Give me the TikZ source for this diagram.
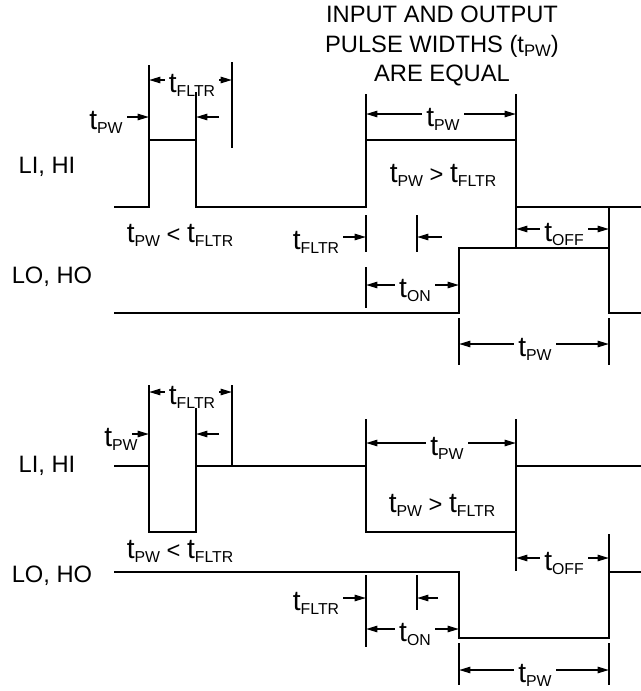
\documentclass[tikz,border=0pt]{standalone}
\usepackage{fontspec}
\setmainfont{Liberation Sans}
\usetikzlibrary{arrows.meta}
\newcommand{\tsb}[1]{{\fontsize{16}{17}\selectfont t}\raisebox{-2.5pt}{\fontsize{9}{9}\selectfont #1}}

\begin{document}
\begin{tikzpicture}[x=0.02cm,y=-0.02cm,line width=1pt,
    >={Triangle[length=6.5pt,width=3.6pt]},
    txt/.style={inner sep=1.5pt,font=\fontsize{13.5}{16.8}\selectfont},
    lbl/.style={inner sep=2pt,text height=14pt,text depth=0pt,
      font=\fontsize{13.5}{16.8}\selectfont}]
    \useasboundingbox (0,0) rectangle (641,691);
    \coordinate (xa) at (149,0);
    \coordinate (xb) at (196,0);
    \coordinate (xc) at (232,0);
    \coordinate (xd) at (366,0);
    \coordinate (xe) at (417,0);
    \coordinate (xf) at (459,0);
    \coordinate (xg) at (516,0);
    \coordinate (xh) at (609,0);
    \node[txt,align=center] (title) at (442,46)
      {INPUT AND OUTPUT\\PULSE WIDTHS (t\raisebox{-2.5pt}{\fontsize{9.5}{9.5}\selectfont PW})\\ARE EQUAL};
    \node[txt] (li1) at (47,167) {LI, HI};
    \node[txt] (lo1) at (52,277) {LO, HO};
    \node[txt] (li2) at (47,466) {LI, HI};
    \node[txt] (lo2) at (52,576) {LO, HO};
    % upper diagram
    \draw (114,207) -- (149,207) -- (149,140) -- (196,140) -- (196,207) -- (366,207)
      -- (366,140) -- (516,140) -- (516,207) -- (641,207);
    \draw (114,313) -- (459,313) -- (459,248) -- (609,248) -- (609,313) -- (641,313);
    \draw (149,140) -- (149,65);
    \draw (196,140) -- (196,92);
    \draw (232,62) -- (232,148);
    \draw (366,140) -- (366,94);
    \draw (516,140) -- (516,94);
    \draw (516,207) -- (516,247);
    \draw (609,248) -- (609,207);
    \draw (366,215) -- (366,252);
    \draw (417,215) -- (417,252);
    \draw (366,267) -- (366,308);
    \draw (459,318) -- (459,365);
    \draw (609,318) -- (609,365);
    \node[lbl] (fa) at (192,80) {\tsb{FLTR}};
    \draw[->] (fa.west) -- (fa.west -| xa);
    \draw[->] (fa.east) -- (fa.east -| xc);
    \node[lbl] (pa) at (106,117) {\tsb{PW}};
    \draw[->] (pa.east) -- (pa.east -| xa);
    \coordinate (qa) at (219,117);
    \draw[->] (qa) -- (qa -| xb);
    \node[lbl] (ca) at (180,230) {\tsb{PW} < \tsb{FLTR}};
    \node[lbl] (pb) at (443,114) {\tsb{PW}};
    \draw[->] (pb.west) -- (pb.west -| xd);
    \draw[->] (pb.east) -- (pb.east -| xg);
    \node[lbl] (cb) at (443,170) {\tsb{PW} > \tsb{FLTR}};
    \node[lbl] (fb) at (316,237) {\tsb{FLTR}};
    \draw[->] (fb.east) -- (fb.east -| xd);
    \coordinate (qb) at (442,237);
    \draw[->] (qb) -- (qb -| xe);
    \node[lbl] (na) at (415,285) {\tsb{ON}};
    \draw[->] (na.west) -- (na.west -| xd);
    \draw[->] (na.east) -- (na.east -| xf);
    \node[lbl] (oa) at (564,229) {\tsb{OFF}};
    \draw[->] (oa.west) -- (oa.west -| xg);
    \draw[->] (oa.east) -- (oa.east -| xh);
    \node[lbl] (pc) at (535,344) {\tsb{PW}};
    \draw[->] (pc.west) -- (pc.west -| xf);
    \draw[->] (pc.east) -- (pc.east -| xh);
    % lower diagram
    \draw (114,466) -- (149,466) -- (149,532) -- (196,532) -- (196,466) -- (366,466)
      -- (366,532) -- (516,532) -- (516,466) -- (641,466);
    \draw (114,572) -- (459,572) -- (459,638) -- (609,638) -- (609,572) -- (641,572);
    \draw (149,466) -- (149,385);
    \draw (196,466) -- (196,408);
    \draw (232,385) -- (232,466);
    \draw (366,466) -- (366,419);
    \draw (516,466) -- (516,419);
    \draw (516,532) -- (516,571);
    \draw (609,572) -- (609,534);
    \draw (366,575) -- (366,647);
    \draw (417,575) -- (417,610);
    \draw (459,643) -- (459,685);
    \draw (609,643) -- (609,685);
    \node[lbl] (fc) at (192,392) {\tsb{FLTR}};
    \draw[->] (fc.west) -- (fc.west -| xa);
    \draw[->] (fc.east) -- (fc.east -| xc);
    \node[lbl] (pd) at (121,434) {\tsb{PW}};
    \draw[->] (pd.east) ++(-10,0) -- (pd.east -| xa);
    \coordinate (qc) at (219,434);
    \draw[->] (qc) -- (qc -| xb);
    \node[lbl] (cc) at (180,546) {\tsb{PW} < \tsb{FLTR}};
    \node[lbl] (pe) at (447,443) {\tsb{PW}};
    \draw[->] (pe.west) -- (pe.west -| xd);
    \draw[->] (pe.east) -- (pe.east -| xg);
    \node[lbl] (cd) at (442,500) {\tsb{PW} > \tsb{FLTR}};
    \node[lbl] (ob) at (564,558) {\tsb{OFF}};
    \draw[->] (ob.west) -- (ob.west -| xg);
    \draw[->] (ob.east) -- (ob.east -| xh);
    \node[lbl] (fd) at (316,598) {\tsb{FLTR}};
    \draw[->] (fd.east) -- (fd.east -| xd);
    \coordinate (qd) at (438,598);
    \draw[->] (qd) -- (qd -| xe);
    \node[lbl] (nb) at (415,629) {\tsb{ON}};
    \draw[->] (nb.west) -- (nb.west -| xd);
    \draw[->] (nb.east) -- (nb.east -| xf);
    \node[lbl] (pf) at (535,670) {\tsb{PW}};
    \draw[->] (pf.west) -- (pf.west -| xf);
    \draw[->] (pf.east) -- (pf.east -| xh);
\end{tikzpicture}
\end{document}
